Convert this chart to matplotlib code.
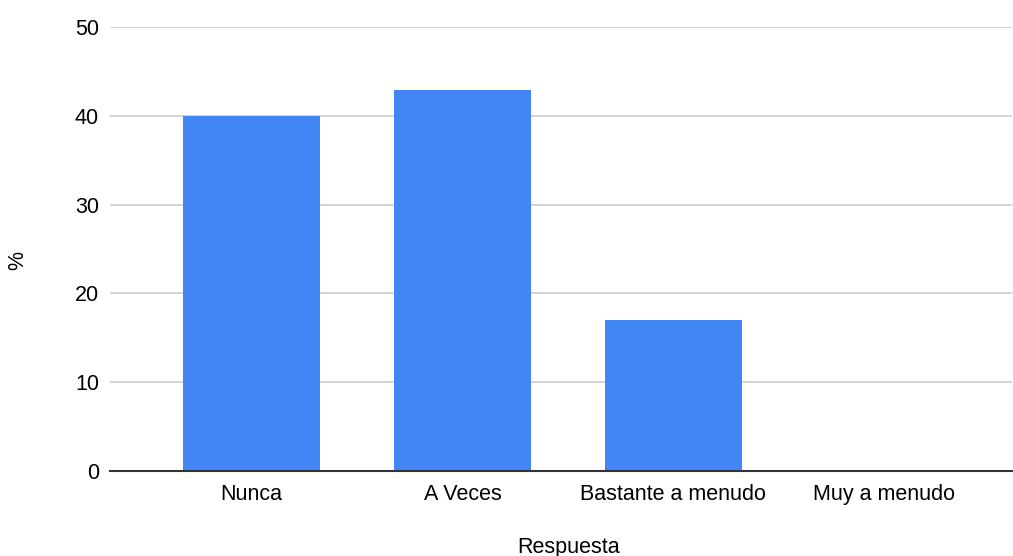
import numpy as np
import matplotlib.pyplot as plt

plt.rcParams['font.family'] = ['Liberation Sans', 'DejaVu Sans']

categorias = ['Nunca', 'A Veces', 'Bastante a menudo', 'Muy a menudo']
porcentajes = [40.0, 42.9, 17.0, 0.0]
yticks = [0, 10, 20, 30, 40, 50]

f = plt.figure(figsize=(10.13, 5.56), dpi=100)
ax = f.add_axes([110 / 1013, 84.8 / 556, 902 / 1013, 444.4 / 556])

x = np.arange(len(categorias))
ax.bar(x, porcentajes, width=0.65, color='#4285f4', zorder=3)

ax.set_ylim(0, 50)
ax.set_xlim(-0.672, 3.607)
ax.set_yticks(yticks)
ax.set_xticks(x)
ax.set_xticklabels(categorias)

# grid like a spreadsheet chart
ax.grid(axis='y', color='#cccccc', linewidth=1.2, zorder=0)
for s in ['top', 'right', 'left']:
    ax.spines[s].set_visible(False)
ax.spines['bottom'].set_color('#333333')
ax.spines['bottom'].set_linewidth(1.5)
ax.spines['bottom'].set_zorder(4)

ax.tick_params(axis='both', length=0, labelsize=15.5, colors='#000000')
ax.tick_params(axis='y', pad=8)
ax.tick_params(axis='x', pad=9)

ax.set_xlabel('Respuesta', fontsize=15.5)
ax.set_ylabel('%', fontsize=15.5)
ax.xaxis.set_label_coords(0.508, -0.148)
ax.yaxis.set_label_coords(-0.102, 0.475)
ax.yaxis.label.set_va('center')

f.savefig('out.png', dpi=100)
